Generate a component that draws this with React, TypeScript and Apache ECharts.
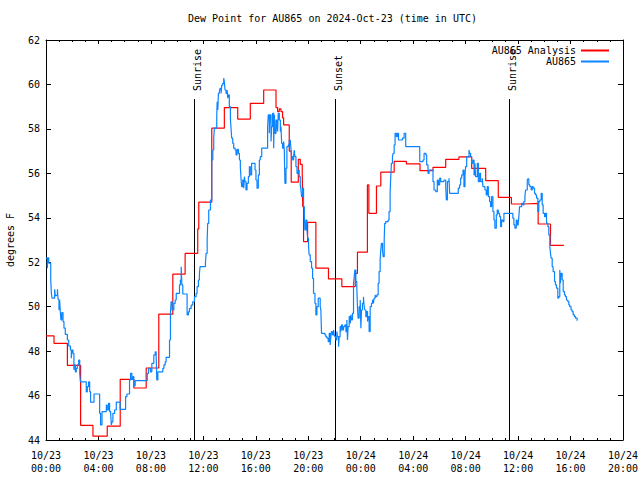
import React, { useEffect, useRef } from "react";
import * as echarts from "echarts";

const chartTitle = "Dew Point for AU865 on 2024-Oct-23 (time in UTC)";
const yAxisName = "degrees F";
const xTickLabels = [
  "10/23\n00:00", "10/23\n04:00", "10/23\n08:00", "10/23\n12:00", "10/23\n16:00", "10/23\n20:00",
  "10/24\n00:00", "10/24\n04:00", "10/24\n08:00", "10/24\n12:00", "10/24\n16:00", "10/24\n20:00",
];
const seriesNames = ["AU865 Analysis", "AU865"];

// hours since 10/23 00:00 UTC
const analysisHours = [0, 0.61, 1.63, 2.64, 3.58, 4.67, 5.66, 6.70, 7.64, 8.60, 9.67, 10.61, 11.57, 11.65, 12.64, 13.60, 14.62, 15.58, 16.60, 17.54, 17.66, 17.79, 17.92, 18.04, 18.12, 18.55, 18.70, 19.24, 19.39, 19.54, 19.58, 19.64, 19.95, 20.58, 21.54, 22.56, 23.58, 23.75, 24.51, 24.62, 25.20, 25.53, 26.55, 27.48, 28.52, 29.51, 30.48, 31.49, 32.46, 33.53, 34.49, 35.49, 36.44, 37.53, 38.47, 39.49];
const analysisValues = [48.69, 48.35, 47.36, 44.66, 44.17, 44.62, 46.73, 46.34, 47.24, 49.66, 51.46, 52.40, 53.5, 54.70, 58.03, 58.96, 58.44, 59.15, 59.75, 58.96, 58.78, 58.9, 58.78, 58.5, 58.18, 57.0, 55.6, 56.63, 56.4, 56.0, 54.5, 52.93, 53.79, 51.73, 51.25, 50.90, 51.5, 52.45, 55.48, 54.2, 55.43, 56.05, 56.54, 56.43, 56.12, 56.27, 56.63, 56.74, 56.22, 55.67, 54.92, 54.62, 54.65, 53.72, 52.76, 52.76];

const obsHours = [
  0.00, 0.10, 0.15, 0.21, 0.36, 0.41, 0.46, 0.66, 0.71, 0.79, 0.87, 0.92, 0.99, 1.04, 1.09, 1.14, 1.20, 1.30, 1.37, 1.47,
  1.63, 1.73, 1.86, 1.93, 1.98, 2.06, 2.13, 2.18, 2.24, 2.31, 2.39, 2.49, 2.57, 2.62, 3.07, 3.15, 3.25, 3.33, 3.40, 3.66,
  4.09, 4.16, 4.27, 4.60, 4.67, 4.77, 4.85, 4.93, 4.98, 5.03, 5.10, 5.23, 5.36, 5.66, 6.07, 6.17, 6.37, 6.45, 6.55, 6.63,
  6.70, 6.80, 7.72, 7.82, 7.97, 8.07, 8.22, 8.33, 8.40, 8.45, 8.53, 8.91, 8.99, 9.09, 9.16, 9.42, 9.49, 9.54, 9.62, 9.75,
  9.85, 9.93, 10.18, 10.25, 10.31, 10.36, 10.43, 10.76, 10.86, 10.94, 11.07, 11.19, 11.32, 11.45, 11.52, 11.62, 11.70, 11.75, 12.16, 12.21,
  12.29, 12.33, 12.41, 12.54, 12.64, 12.72, 12.79, 12.84, 13.02, 13.05, 13.10, 13.15, 13.22, 13.27, 13.35, 13.40, 13.48, 13.55, 13.60, 13.65,
  13.73, 13.81, 13.86, 13.91, 13.98, 14.06, 14.11, 14.16, 14.24, 14.31, 14.42, 14.49, 14.57, 14.67, 14.75, 14.82, 14.87, 14.92, 15.00, 15.08,
  15.13, 15.18, 15.25, 15.33, 15.43, 15.51, 15.58, 15.68, 15.94, 16.01, 16.09, 16.19, 16.27, 16.34, 16.45, 16.90, 16.95, 17.03, 17.08, 17.16,
  17.21, 17.28, 17.36, 17.41, 17.46, 17.54, 17.61, 17.66, 17.71, 17.79, 17.87, 17.92, 17.97, 18.04, 18.12, 18.17, 18.22, 18.30, 18.37, 18.48,
  18.55, 18.63, 18.68, 18.73, 18.81, 18.88, 18.93, 18.98, 19.06, 19.14, 19.24, 19.31, 19.39, 19.44, 19.49, 19.57, 19.64, 19.70, 19.74, 19.82,
  19.90, 19.95, 20.02, 20.07, 20.15, 20.25, 20.33, 20.40, 20.51, 20.58, 20.66, 20.76, 20.91, 20.96, 21.01, 21.27, 21.34, 21.42, 21.52, 21.60,
  21.67, 21.72, 21.77, 21.85, 21.93, 21.98, 22.03, 22.10, 22.18, 22.23, 22.31, 22.36, 22.43, 22.49, 22.54, 22.61, 22.69, 22.79, 22.87, 22.94,
  22.99, 23.04, 23.12, 23.20, 23.25, 23.30, 23.37, 23.45, 23.50, 23.55, 23.63, 23.70, 23.75, 23.80, 23.88, 23.96, 24.01, 24.06, 24.13, 24.21,
  24.26, 24.31, 24.39, 24.46, 24.52, 24.57, 24.64, 24.72, 24.82, 24.90, 24.97, 25.02, 25.10, 25.15, 25.23, 25.33, 25.40, 25.48, 25.53, 25.58,
  25.66, 25.71, 25.79, 25.83, 25.91, 26.09, 26.16, 26.24, 26.29, 26.34, 26.42, 26.47, 26.55, 26.62, 26.72, 26.80, 26.88, 27.18, 27.31, 27.43,
  28.50, 28.75, 28.83, 28.96, 29.03, 29.13, 29.21, 29.51, 29.59, 29.72, 29.84, 29.92, 30.02, 30.10, 30.35, 30.48, 30.53, 30.61, 30.73, 30.78,
  31.44, 31.54, 31.62, 31.70, 31.80, 31.87, 31.95, 32.00, 32.08, 32.26, 32.31, 32.38, 32.46, 32.56, 32.64, 32.71, 32.76, 32.89, 32.97, 33.07,
  33.14, 33.27, 33.32, 33.47, 33.57, 33.65, 33.73, 33.83, 33.90, 33.98, 34.08, 34.16, 34.23, 34.34, 34.41, 34.49, 34.59, 34.67, 34.74, 34.84,
  34.92, 35.60, 35.68, 35.76, 35.86, 35.93, 36.01, 36.06, 36.11, 36.27, 36.37, 36.44, 36.52, 36.57, 36.70, 36.75, 36.82, 36.90, 37.00, 37.08,
  37.15, 37.25, 37.33, 37.41, 37.51, 37.58, 37.66, 37.76, 37.84, 37.91, 38.02, 38.09, 38.17, 38.27, 38.34, 38.42, 38.47, 38.52, 38.60, 38.67,
  38.78, 38.85, 38.93, 39.03, 39.10, 39.18, 39.23, 39.28, 39.36, 39.44, 39.54, 39.61, 39.69, 39.79, 39.87, 39.94, 40.04, 40.12, 40.20, 40.30,
  40.38, 40.50,
];
const obsValues = [
  52.2, 51.73, 52.2, 51.96, 51.23, 50.6, 50.38, 50.78, 50.5, 50.53, 50.78, 50.33, 49.85, 50.3, 49.77, 49.4, 49.73, 49.33, 49.03, 48.75,
  48.5, 48.23, 48.05, 47.68, 48.05, 47.9, 47.15, 47.38, 47.07, 47.22, 47.38, 47.6, 47.0, 46.62, 46.17, 46.4, 46.62, 46.17, 45.7, 46.07,
  45.2, 44.68, 45.28, 45.57, 45.35, 45.65, 45.28, 45.2, 44.68, 44.82, 45.2, 45.35, 45.7, 45.38, 45.95, 46.07, 46.7, 47.0, 46.73, 46.85,
  46.44, 46.67, 47.0, 47.22, 47.07, 47.45, 47.83, 47.97, 47.83, 46.7, 47.07, 47.22, 47.38, 47.52, 47.72, 48.5, 49.7, 50.22, 49.85, 50.15,
  50.3, 50.6, 50.98, 51.2, 51.8, 50.98, 50.57, 49.63, 49.77, 49.92, 50.07, 50.22, 50.45, 50.6, 50.9, 51.2, 51.5, 51.8, 52.0, 52.4,
  53.0, 53.75, 54.35, 54.8, 56.6, 57.05, 57.58, 58.03, 58.55, 59.22, 58.85, 59.6, 59.67, 59.82, 59.6, 59.97, 60.05, 60.28, 60.12, 59.75,
  59.6, 59.75, 59.38, 59.53, 59.0, 58.48, 58.03, 57.58, 57.35, 57.13, 57.05, 56.83, 57.08, 56.9, 56.6, 56.3, 55.78, 55.4, 55.7, 55.33,
  55.85, 55.63, 55.25, 55.55, 55.85, 56.3, 55.93, 56.45, 56.15, 55.7, 55.33, 55.93, 56.6, 56.75, 57.13, 58.1, 58.63, 57.8, 58.63, 57.43,
  58.1, 58.7, 57.13, 58.63, 57.8, 58.4, 58.18, 57.88, 58.7, 58.4, 57.88, 58.1, 57.35, 57.13, 57.43, 57.05, 55.55, 56.23, 57.2, 57.28,
  57.5, 57.43, 57.13, 56.75, 56.6, 56.75, 57.05, 56.75, 56.3, 56.0, 56.15, 55.85, 55.48, 55.25, 54.95, 55.33, 54.5, 54.13, 53.45, 53.9,
  53.45, 53.08, 52.7, 52.33, 52.03, 51.73, 51.27, 50.6, 50.15, 49.63, 50.0, 50.38, 50.0, 49.85, 48.8, 48.73, 48.65, 48.58, 48.43, 48.8,
  48.28, 48.65, 48.88, 48.73, 48.95, 48.73, 48.65, 48.5, 48.88, 48.65, 48.2, 48.65, 49.1, 48.88, 49.18, 48.95, 49.1, 49.18, 48.88, 49.4,
  48.5, 49.1, 49.55, 49.25, 49.63, 49.4, 49.7, 51.05, 51.33, 51.65, 51.13, 50.9, 50.0, 49.48, 50.0, 50.3, 49.03, 49.85, 50.15, 50.45,
  50.0, 49.85, 49.55, 49.78, 49.33, 49.55, 48.88, 50.0, 50.15, 50.3, 50.15, 50.38, 50.53, 50.45, 50.53, 51.05, 51.58, 52.1, 52.55, 52.85,
  52.55, 52.25, 53.0, 53.75, 53.83, 53.9, 54.28, 55.1, 55.85, 56.45, 56.75, 56.9, 57.28, 57.8, 57.65, 57.8, 57.5, 57.58, 57.8, 57.2,
  56.53, 56.6, 56.9, 56.83, 56.38, 56.0, 56.15, 55.63, 55.25, 55.18, 55.7, 55.48, 55.78, 55.63, 55.7, 55.4, 54.8, 55.63, 55.78, 55.1,
  55.33, 55.48, 55.78, 55.93, 56.15, 55.4, 55.93, 56.3, 56.75, 57.05, 56.9, 56.75, 56.45, 56.6, 55.93, 56.45, 55.85, 56.45, 55.63, 56.0,
  55.63, 55.78, 55.4, 55.25, 55.03, 55.4, 54.95, 54.73, 54.5, 54.95, 54.28, 53.9, 53.53, 54.13, 54.35, 54.2, 54.05, 53.6, 53.9, 53.83,
  54.2, 53.98, 53.68, 53.53, 53.9, 53.68, 53.75, 54.05, 54.5, 54.65, 54.58, 54.73, 54.95, 55.25, 55.7, 55.75, 55.48, 55.4, 55.25, 55.4,
  55.33, 55.1, 55.03, 54.88, 54.28, 54.73, 54.8, 55.1, 54.58, 54.2, 54.05, 54.2, 53.75, 53.6, 53.23, 52.7, 52.4, 52.18, 51.8, 51.58,
  51.13, 50.98, 50.83, 50.38, 50.45, 51.65, 51.05, 51.5, 51.2, 50.68, 50.53, 50.45, 50.3, 50.23, 50.08, 50.0, 49.85, 49.78, 49.63, 49.55,
  49.48, 49.37,
];

const sunEventNames = ["Sunrise", "Sunset", "Sunrise"];
const sunEventHours = [11.32, 22.0, 35.3];

const FONT = '"DejaVu Sans Mono", "Liberation Mono", monospace';
const RED = "#ff0000";
const BLUE = "#0a84ff";

export default function App() {
  const ref = useRef<HTMLDivElement>(null);
  useEffect(() => {
    if (!ref.current) return;
    const chart = echarts.init(ref.current, undefined, { renderer: "svg" });
    const analysisData = analysisHours.map((h, i) => [h, analysisValues[i]]);
    const obsData = obsHours.map((h, i) => [h, obsValues[i]]);
    const xCommon = {
      type: "value" as const,
      min: 0,
      max: 44,
      interval: 4,
      splitLine: { show: false },
      axisLine: { show: true, onZero: false, lineStyle: { color: "#000", width: 1 } },
      axisTick: { show: true, inside: true, length: 4, lineStyle: { color: "#000" } },
      minorTick: { show: true, splitNumber: 4, length: 2, lineStyle: { color: "#000" } },
    };
    const yCommon = {
      type: "value" as const,
      min: 44,
      max: 62,
      interval: 2,
      splitLine: { show: false },
      axisLine: { show: true, onZero: false, lineStyle: { color: "#000", width: 1 } },
      axisTick: { show: true, inside: true, length: 5, lineStyle: { color: "#000" } },
    };
    chart.setOption({
      animation: false,
      textStyle: { fontFamily: FONT, color: "#000" },
      title: {
        text: chartTitle,
        left: 188,
        top: 13,
        padding: 0,
        textStyle: { fontFamily: FONT, fontSize: 10, fontWeight: "normal", color: "#000" },
      },
      legend: {
        data: seriesNames,
        orient: "vertical",
        align: "right",
        right: 30,
        top: 45,
        padding: 0,
        itemGap: 0,
        itemWidth: 28,
        itemHeight: 11,
        itemStyle: { opacity: 0 },
        textStyle: { fontFamily: FONT, fontSize: 10, color: "#000", lineHeight: 11 },
      },
      grid: { left: 46, right: 17, top: 40, bottom: 40, containLabel: false, outerBoundsMode: "none" },
      xAxis: [
        {
          ...xCommon,
          position: "bottom",
          axisLabel: {
            show: true,
            margin: 9,
            fontFamily: FONT,
            fontSize: 10,
            lineHeight: 13,
            color: "#000",
            formatter: (v: number) => xTickLabels[Math.round(v / 4)] ?? "",
          },
        },
        { ...xCommon, position: "top", axisLabel: { show: false } },
      ],
      yAxis: [
        {
          ...yCommon,
          position: "left",
          name: yAxisName,
          nameLocation: "middle",
          nameRotate: 90,
          nameGap: 31,
          nameTextStyle: { fontFamily: FONT, fontSize: 10, color: "#000" },
          axisLabel: { show: true, margin: 6, fontFamily: FONT, fontSize: 10, color: "#000" },
        },
        { ...yCommon, position: "right", axisLabel: { show: false } },
      ],
      series: [
        {
          type: "custom",
          xAxisIndex: 0,
          yAxisIndex: 0,
          silent: true,
          clip: false,
          z: 3,
          data: sunEventHours.map((h) => [h, 44]),
          renderItem: (params: any, api: any) => {
            const p = api.coord([api.value(0), 44]);
            const cs = params.coordSys;
            const x = Math.round(p[0]) + 0.5;
            return {
              type: "group",
              children: [
                {
                  type: "line",
                  shape: { x1: x, y1: cs.y + 59, x2: x, y2: cs.y + cs.height },
                  style: { stroke: "#000", lineWidth: 1 },
                },
                {
                  type: "text",
                  x: x + 2.5,
                  y: cs.y + 51,
                  rotation: Math.PI / 2,
                  style: {
                    text: sunEventNames[params.dataIndex],
                    font: `10px ${FONT}`,
                    fill: "#000",
                    textAlign: "left",
                    textVerticalAlign: "middle",
                  },
                },
              ],
            };
          },
        },
        {
          name: seriesNames[0],
          type: "line",
          step: "end",
          symbol: "none",
          showSymbol: false,
          z: 4,
          data: analysisData,
          itemStyle: { color: RED },
          lineStyle: { color: RED, width: 1.2 },
        },
        {
          name: seriesNames[1],
          type: "line",
          step: "end",
          symbol: "none",
          showSymbol: false,
          z: 5,
          data: obsData,
          itemStyle: { color: BLUE },
          lineStyle: { color: BLUE, width: 1.2 },
        },
      ],
    });
    return () => chart.dispose();
  }, []);
  return <div ref={ref} style={{ width: 640, height: 480, position: "absolute", left: 0, top: 0 }} />;
}
